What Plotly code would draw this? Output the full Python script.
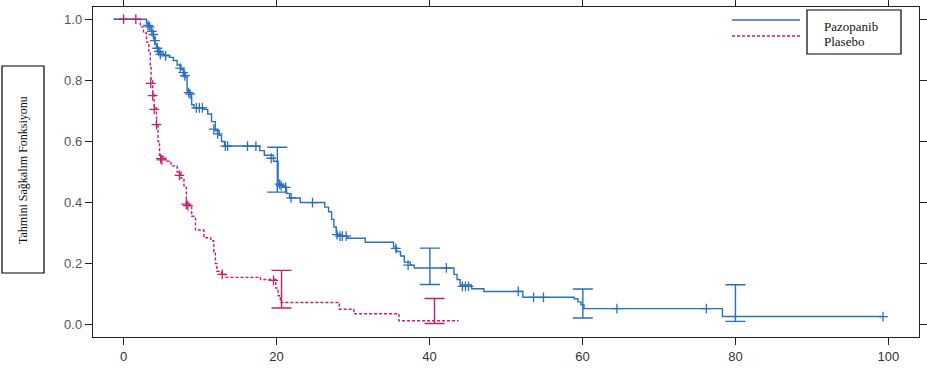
import plotly.graph_objects as go

# ---------------- data ----------------
start_time = -1.3

# Pazopanib: step times and survival after each step
paz_times = [3.0, 3.3, 3.6, 3.9, 4.1, 4.3, 4.6, 5.2, 6.0, 6.5, 7.0, 7.5, 7.9, 8.1, 8.3, 8.6,
             8.9, 9.2, 10.5, 11.0, 11.5, 12.0, 12.5, 12.8, 13.2, 17.8, 18.4, 19.6, 20.2, 20.8,
             21.3, 21.7, 23.1, 26.3, 26.8, 27.2, 27.5, 27.8, 28.0, 29.3, 31.6, 35.3, 35.7,
             36.2, 36.7, 37.5, 38.0, 43.2, 43.6, 44.0, 45.5, 47.1, 52.2, 58.9, 59.4, 59.8,
             60.2, 78.3]
paz_surv = [0.985, 0.975, 0.96, 0.94, 0.92, 0.905, 0.89, 0.882, 0.875, 0.865, 0.85, 0.835,
            0.82, 0.81, 0.765, 0.755, 0.72, 0.71, 0.705, 0.69, 0.665, 0.635, 0.62, 0.60, 0.585,
            0.57, 0.555, 0.535, 0.46, 0.45, 0.43, 0.415, 0.40, 0.385, 0.37, 0.345, 0.32, 0.30,
            0.29, 0.283, 0.27, 0.255, 0.24, 0.225, 0.205, 0.195, 0.186, 0.165, 0.148, 0.13,
            0.118, 0.109, 0.09, 0.085, 0.075, 0.065, 0.053, 0.027]
paz_end = 99.3

paz_cens_t = [3.2, 3.4, 3.7, 3.9, 4.1, 4.4, 4.6, 4.8, 5.5, 7.4, 7.8, 8.0, 8.5, 8.7, 9.5, 9.9,
              10.3, 11.8, 12.3, 13.3, 13.6, 16.2, 17.3, 19.3, 20.4, 20.6, 21.2, 21.9, 24.7,
              27.9, 28.3, 28.6, 29.1, 35.6, 37.2, 42.2, 44.3, 44.7, 45.1, 51.6, 53.6, 54.9,
              64.5, 76.2, 99.3]
paz_cens_s = [0.98, 0.975, 0.96, 0.95, 0.93, 0.905, 0.895, 0.885, 0.88, 0.84, 0.825, 0.815,
              0.76, 0.755, 0.71, 0.71, 0.71, 0.64, 0.625, 0.585, 0.585, 0.585, 0.585, 0.545,
              0.46, 0.455, 0.45, 0.415, 0.40, 0.295, 0.29, 0.29, 0.29, 0.25, 0.195, 0.186,
              0.126, 0.126, 0.126, 0.109, 0.09, 0.09, 0.053, 0.053, 0.027]

paz_ci_t = [20.1, 40.05, 60.05, 80.0]
paz_ci_lo = [0.434, 0.132, 0.022, 0.011]
paz_ci_hi = [0.581, 0.251, 0.117, 0.131]

# Plasebo
pla_times = [2.2, 2.6, 3.0, 3.3, 3.5, 3.6, 3.8, 4.0, 4.3, 4.5, 4.7, 5.5, 6.2, 7.0, 7.5, 7.9,
             8.2, 8.6, 8.9, 9.4, 10.5, 11.4, 11.8, 12.0, 12.2, 12.8, 13.3, 17.9, 19.9, 20.2,
             20.5, 28.2, 30.1, 36.0]
pla_surv = [0.975, 0.955, 0.925, 0.89, 0.85, 0.80, 0.755, 0.71, 0.655, 0.60, 0.55, 0.535,
            0.52, 0.50, 0.48, 0.45, 0.40, 0.385, 0.355, 0.31, 0.285, 0.275, 0.24, 0.20, 0.175,
            0.165, 0.155, 0.148, 0.12, 0.095, 0.073, 0.051, 0.036, 0.013]
pla_end = 43.8

pla_cens_t = [0.0, 1.6, 3.55, 3.8, 4.0, 4.3, 4.85, 5.0, 7.3, 8.2, 8.4, 12.9, 19.6]
pla_cens_s = [1.0, 1.0, 0.79, 0.75, 0.705, 0.655, 0.544, 0.54, 0.489, 0.395, 0.39, 0.165,
              0.145]

pla_ci_t = [20.65, 40.65]
pla_ci_lo = [0.055, 0.004]
pla_ci_hi = [0.178, 0.086]

x_ticks = [0, 20, 40, 60, 80, 100]
y_ticks = [0.0, 0.2, 0.4, 0.6, 0.8, 1.0]
y_ticklabels = ["0.0", "0.2", "0.4", "0.6", "0.8", "1.0"]

y_title = "Tahmini Sağkalım Fonksiyonu"
legend_names = ["Pazopanib", "Plasebo"]

BLUE = "#2b6fbd"
RED = "#c81c6c"
SERIF = "Liberation Serif, Times New Roman, DejaVu Serif, serif"

# ---------------- figure ----------------
W, H = 927, 370
L, R, T, B = 93, 8, 7, 33
pw, ph = W - L - R, H - T - B


def px(xp):
    return (xp - L) / pw


def py(yp):
    return (H - B - yp) / ph


fig = go.Figure()


def km_trace(times, surv, end, color, dash):
    xs = [start_time] + list(times) + [end]
    ys = [1.0] + list(surv) + [surv[-1]]
    return go.Scatter(x=xs, y=ys, mode="lines", line=dict(color=color, width=1.4, dash=dash, shape="hv"),
                      hoverinfo="skip", showlegend=False)


fig.add_trace(km_trace(pla_times, pla_surv, pla_end, RED, "3px,2px"))
fig.add_trace(km_trace(paz_times, paz_surv, paz_end, BLUE, "solid"))

fig.add_trace(go.Scatter(x=pla_cens_t, y=pla_cens_s, mode="markers",
                         marker=dict(symbol="cross-thin", size=7, line=dict(color=RED, width=1.3)),
                         showlegend=False, hoverinfo="skip"))
fig.add_trace(go.Scatter(x=paz_cens_t, y=paz_cens_s, mode="markers",
                         marker=dict(symbol="cross-thin", size=7, line=dict(color=BLUE, width=1.3)),
                         showlegend=False, hoverinfo="skip"))


def ci_trace(t, lo, hi, color):
    mid = [(a + b) / 2 for a, b in zip(lo, hi)]
    up = [b - m for b, m in zip(hi, mid)]
    dn = [m - a for a, m in zip(lo, mid)]
    return go.Scatter(x=t, y=mid, mode="markers",
                      marker=dict(size=1, color="rgba(0,0,0,0)"),
                      error_y=dict(type="data", symmetric=False, array=up, arrayminus=dn,
                                   color=color, thickness=1.4, width=10),
                      showlegend=False, hoverinfo="skip")


fig.add_trace(ci_trace(paz_ci_t, paz_ci_lo, paz_ci_hi, BLUE))
fig.add_trace(ci_trace(pla_ci_t, pla_ci_lo, pla_ci_hi, RED))

axis_common = dict(showgrid=False, zeroline=False, showline=True, linecolor="#222", linewidth=1.4,
                   mirror="ticks", ticks="outside", ticklen=7, tickwidth=1.2, tickcolor="#222")

fig.update_xaxes(range=[-4, 104], tickvals=x_ticks, **axis_common,
                 tickfont=dict(family="Liberation Sans", size=13, color="#333"))
fig.update_yaxes(range=[-0.04, 1.04], tickvals=y_ticks, ticktext=y_ticklabels, **axis_common,
                 tickfont=dict(family="Liberation Sans", size=13, color="#555"))

shapes = [
    # y title box
    dict(type="rect", xref="paper", yref="paper", x0=px(2), x1=px(44), y0=py(273), y1=py(66),
         line=dict(color="black", width=1.2), fillcolor="white"),
    # legend box
    dict(type="rect", xref="paper", yref="paper", x0=px(807), x1=px(901), y0=py(54), y1=py(10),
         line=dict(color="black", width=1.2), fillcolor="white"),
    # legend lines
    dict(type="line", xref="paper", yref="paper", x0=px(732), x1=px(800), y0=py(20), y1=py(20),
         line=dict(color=BLUE, width=1.4)),
    dict(type="line", xref="paper", yref="paper", x0=px(732), x1=px(800), y0=py(36), y1=py(36),
         line=dict(color=RED, width=1.4, dash="3px,2px")),
]

annotations = [
    dict(text=y_title, xref="paper", yref="paper", x=px(23), y=py(170), textangle=-90,
         showarrow=False, xanchor="center", yanchor="middle",
         font=dict(family=SERIF, size=12, color="#111")),
    dict(text=legend_names[0], xref="paper", yref="paper", x=px(822), y=py(26),
         showarrow=False, xanchor="left", yanchor="middle",
         font=dict(family=SERIF, size=13, color="#111")),
    dict(text=legend_names[1], xref="paper", yref="paper", x=px(822), y=py(41),
         showarrow=False, xanchor="left", yanchor="middle",
         font=dict(family=SERIF, size=13, color="#111")),
]

fig.update_layout(width=W, height=H, margin=dict(l=L, r=R, t=T, b=B, autoexpand=False),
                  paper_bgcolor="white", plot_bgcolor="white", shapes=shapes,
                  annotations=annotations, showlegend=False)

fig.write_html("out.html", config={"displayModeBar": False},
               post_script="document.body.style.margin='0px';document.body.style.overflow='hidden';")
